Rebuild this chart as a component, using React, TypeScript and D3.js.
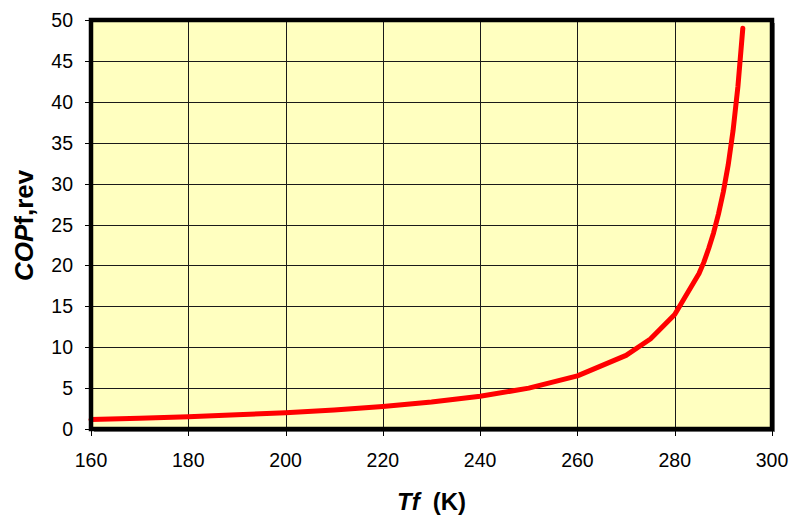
import React from "react";
import * as d3 from "d3";

const tempK = [160, 170, 180, 190, 200, 210, 220, 230, 240, 250, 260, 270, 275, 280, 285, 286, 287, 288, 289, 290, 291, 292, 293, 294];
const copRev = [1.15, 1.3, 1.5, 1.73, 2.0, 2.33, 2.75, 3.29, 4.0, 5.0, 6.5, 9.0, 11.0, 14.0, 19.0, 20.4, 22.1, 24.0, 26.3, 29.0, 32.3, 36.5, 41.9, 49.0];
const xTicks = [160, 180, 200, 220, 240, 260, 280, 300];
const yTicks = [0, 5, 10, 15, 20, 25, 30, 35, 40, 45, 50];

const W = 790;
const H = 516;
const L = 91, R = 772, T = 20, B = 429;
const FONT = "'Liberation Sans', Arial, Helvetica, sans-serif";

export default function App() {
  const x = d3.scaleLinear().domain([160, 300]).range([L, R]);
  const y = d3.scaleLinear().domain([0, 50]).range([B, T]);
  const pts: [number, number][] = tempK.map((t, i) => [t, copRev[i]]);
  const line = d3
    .line<[number, number]>()
    .x((d) => x(d[0]))
    .y((d) => y(d[1]));

  return (
    <svg
      width={W}
      height={H}
      style={{ position: "absolute", left: 0, top: 0 }}
      fontFamily={FONT}
    >
      <rect x={0} y={0} width={W} height={H} fill="#ffffff" />
      {/* shadow */}
      <rect x={L + 3} y={T + 3} width={R - L} height={B - T} fill="#8a8a8a" />
      <rect x={L} y={T} width={R - L} height={B - T} fill="#FFFFC0" />
      {/* grid */}
      {yTicks.slice(1, -1).map((v) => (
        <line key={"gy" + v} x1={L} x2={R} y1={Math.round(y(v)) + 0.5} y2={Math.round(y(v)) + 0.5} stroke="#1a1a1a" strokeWidth={1} />
      ))}
      {xTicks.slice(1, -1).map((v) => (
        <line key={"gx" + v} y1={T} y2={B} x1={Math.round(x(v)) + 0.5} x2={Math.round(x(v)) + 0.5} stroke="#1a1a1a" strokeWidth={1} />
      ))}
      {/* curve */}
      <path d={line(pts) ?? ""} fill="none" stroke="#FF0000" strokeWidth={5} strokeLinejoin="round" strokeLinecap="round" />
      {/* frame */}
      <rect x={L} y={T} width={R - L} height={B - T} fill="none" stroke="#000" strokeWidth={4.5} />
      {/* ticks */}
      {yTicks.map((v) => (
        <g key={"ty" + v}>
          <line x1={L - 6} x2={L} y1={Math.round(y(v)) + 0.5} y2={Math.round(y(v)) + 0.5} stroke="#000" strokeWidth={1} />
          <text x={73} y={y(v)} dy="0.36em" textAnchor="end" fontSize={19.5} fill="#000">
            {v}
          </text>
        </g>
      ))}
      {xTicks.map((v) => (
        <g key={"tx" + v}>
          <line x1={Math.round(x(v)) + 0.5} x2={Math.round(x(v)) + 0.5} y1={B} y2={B + 7} stroke="#000" strokeWidth={1} />
          <text x={x(v)} y={467} textAnchor="middle" fontSize={19.5} fill="#000">
            {v}
          </text>
        </g>
      ))}
      {/* axis titles */}
      <text x={(L + R) / 2} y={510} textAnchor="middle" fontSize={24} fontWeight="bold" fill="#000">
        <tspan fontStyle="italic">Tf</tspan>
        <tspan dx={13}>(K)</tspan>
      </text>
      <text
        transform={`translate(33, 281) rotate(-90)`}
        textAnchor="start"
        fontSize={26}
        fontWeight="bold"
        fill="#000"
      >
        <tspan fontStyle="italic">COP</tspan>
        <tspan>f,rev</tspan>
      </text>
    </svg>
  );
}
